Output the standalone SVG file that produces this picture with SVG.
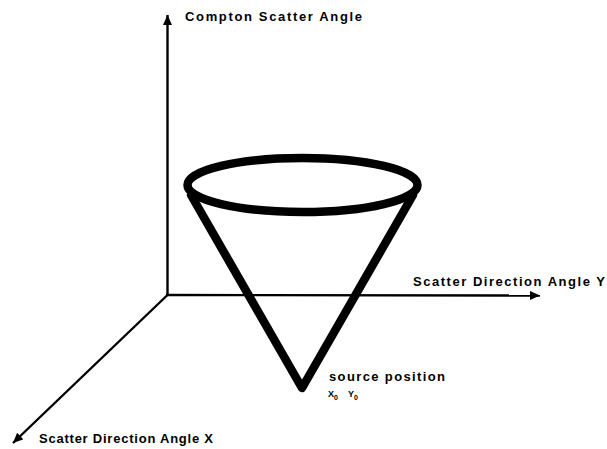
<svg xmlns="http://www.w3.org/2000/svg" width="607" height="449" viewBox="0 0 607 449">
<style>
.axis{stroke:#000;stroke-width:2.4;fill:none}
.cone{stroke:#000;stroke-width:8.5;fill:none;stroke-linejoin:round;stroke-linecap:round}
.lbl{font-family:"Liberation Sans",Arial,sans-serif;font-weight:bold;font-size:13px;fill:#000}
.sm{font-family:"Liberation Sans",Arial,sans-serif;font-weight:bold;font-size:9px;fill:#000}
</style>
<defs>
<marker id="ah" markerUnits="userSpaceOnUse" markerWidth="12" markerHeight="10" refX="10" refY="4.5" orient="auto">
<path d="M0,0 L10,4.5 L0,9 Z" fill="#000"/>
</marker>
</defs>
<rect width="607" height="449" fill="#fff"/>
<g id="connectors">
<line class="axis" x1="167.5" y1="295" x2="167.5" y2="15" marker-end="url(#ah)"/>
<line class="axis" x1="166" y1="295" x2="540" y2="295.5" marker-end="url(#ah)"/>
<line class="axis" x1="167.5" y1="295" x2="13" y2="443" marker-end="url(#ah)"/>
</g>
<g id="cone">
<ellipse class="cone" cx="302.5" cy="185" rx="115" ry="27"/>
<path class="cone" d="M191,195 L302,388 L413,195"/>
</g>
<g id="label-compton">
<text class="lbl" x="185" y="21" textLength="177" lengthAdjust="spacing">Compton Scatter Angle</text>
</g>
<g id="label-y">
<text class="lbl" x="413" y="286" textLength="192" lengthAdjust="spacing">Scatter Direction Angle Y</text>
</g>
<g id="label-x">
<text class="lbl" x="39" y="443" textLength="174" lengthAdjust="spacing">Scatter Direction Angle X</text>
</g>
<g id="label-source">
<text class="lbl" x="329" y="381" textLength="116" lengthAdjust="spacing">source position</text>
<text class="sm" x="328" y="397">X<tspan dy="3" font-size="7">0</tspan></text>
<text class="sm" x="348" y="397">Y<tspan dy="3" font-size="7">0</tspan></text>
</g>
</svg>
